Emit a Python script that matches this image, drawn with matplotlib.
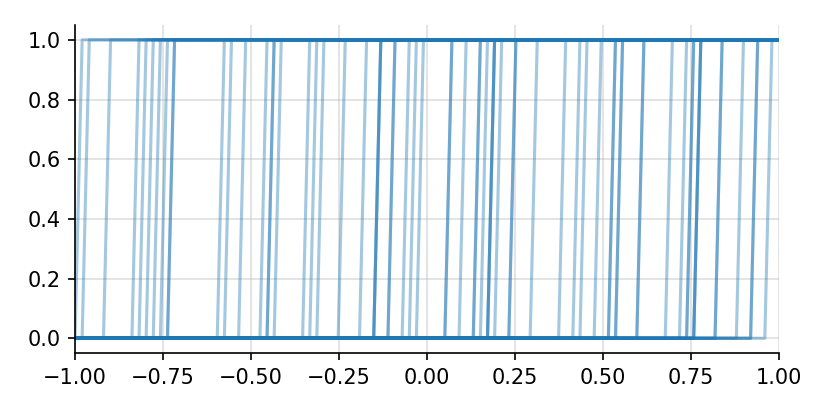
import matplotlib
matplotlib.use("Agg")
import matplotlib.pyplot as plt
import numpy as np

# sample positions and the switch point of every curve (read off the picture,
# repeated where several curves overlap)
n_samples = 100
thresholds = [
    -0.990, -0.970, -0.909, -0.828, -0.808, -0.788, -0.768, -0.747,
    -0.727, -0.727, -0.586, -0.566, -0.525, -0.465, -0.444, -0.444,
    -0.424, -0.343, -0.323, -0.303, -0.242, -0.182, -0.141, -0.141,
    -0.141, -0.101, -0.101, -0.061, -0.040, -0.020, 0.061, 0.061,
    0.101, 0.141, 0.141, 0.162, 0.182, 0.182, 0.182, 0.202,
    0.242, 0.242, 0.303, 0.384, 0.424, 0.444, 0.485, 0.525,
    0.525, 0.545, 0.545, 0.606, 0.606, 0.687, 0.727, 0.747,
    0.747, 0.768, 0.768, 0.768, 0.828, 0.828, 0.889, 0.929,
    0.929, 0.970,
]
xticks = [-1.0, -0.75, -0.5, -0.25, 0.0, 0.25, 0.5, 0.75, 1.0]
yticks = [0.0, 0.2, 0.4, 0.6, 0.8, 1.0]

x = np.linspace(-1, 1, n_samples)

fig = plt.figure(figsize=(830 / 150, 415 / 150), dpi=150)
ax = fig.add_axes([0.0904, 0.149, 0.8482, 0.791])

for t in thresholds:
    y = (x > t).astype(float)
    ax.plot(x, y, color="tab:blue", alpha=0.4, lw=1.5)

ax.set_xlim(-1, 1)
ax.set_xticks(xticks)
ax.set_yticks(yticks)
ax.grid(True, alpha=0.4)
ax.set_axisbelow(True)
ax.spines["top"].set_visible(False)
ax.spines["right"].set_visible(False)

fig.savefig("out.png", dpi=150)
